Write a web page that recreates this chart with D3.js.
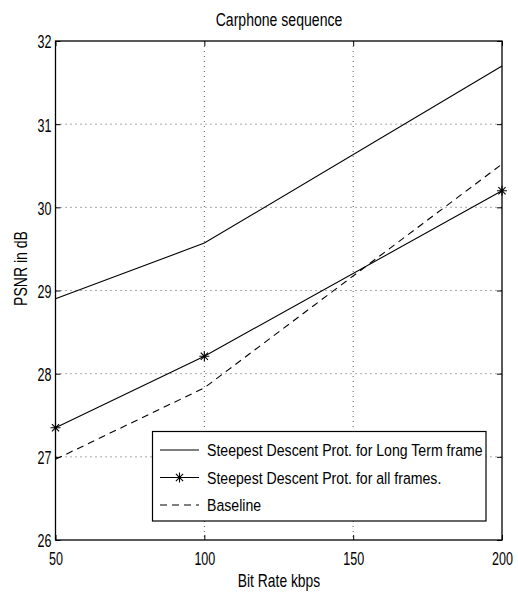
<!DOCTYPE html>
<html>
<head>
<meta charset="utf-8">
<script src="https://cdn.jsdelivr.net/npm/d3@7"></script>
<style>
  html, body { margin: 0; padding: 0; background: #fff; }
  text { font-family: "Liberation Sans", Arial, Helvetica, sans-serif; fill: #000; }
</style>
</head>
<body>
<svg id="chart" width="518" height="592"></svg>
<script>
// ---- data ----
const bitRates = [50, 100, 200];
const longTerm = [28.90, 29.57, 31.70];
const allFrames = [27.35, 28.21, 30.20];
const baseline = [26.97, 27.83, 30.52];
const xTicks = [50, 100, 150, 200];
const yTicks = [26, 27, 28, 29, 30, 31, 32];
const legendLabels = [
  "Steepest Descent Prot. for Long Term frame",
  "Steepest Descent Prot. for all frames.",
  "Baseline"
];
const titleText = "Carphone sequence";
const xLabel = "Bit Rate kbps";
const yLabel = "PSNR in dB";

// ---- layout ----
const W = 518, H = 592;
const L = 55.5, R = 502, T = 41, B = 540;
const svg = d3.select("#chart");
svg.append("rect").attr("width", W).attr("height", H).attr("fill", "#fff");

const x = d3.scaleLinear().domain([50, 200]).range([L, R]);
const y = d3.scaleLinear().domain([26, 32]).range([B, T]);

// grid
const grid = svg.append("g").attr("stroke", "#555").attr("stroke-width", 1)
  .attr("stroke-dasharray", "1,4").attr("fill", "none");
yTicks.slice(1, -1).forEach(v => {
  grid.append("line").attr("x1", L).attr("x2", R).attr("y1", y(v)).attr("y2", y(v));
});
xTicks.slice(1, -1).forEach(v => {
  grid.append("line").attr("x1", x(v)).attr("x2", x(v)).attr("y1", T).attr("y2", B);
});

// axes with inward ticks on all sides
const tickLen = 5;
const axL = svg.append("g").attr("transform", `translate(${L},0)`)
  .call(d3.axisLeft(y).tickValues(yTicks).tickSizeInner(-tickLen).tickSizeOuter(0).tickFormat(d3.format("d")));
const axR = svg.append("g").attr("transform", `translate(${R},0)`)
  .call(d3.axisRight(y).tickValues(yTicks).tickSizeInner(-tickLen).tickSizeOuter(0).tickFormat(""));
const axB = svg.append("g").attr("transform", `translate(0,${B})`)
  .call(d3.axisBottom(x).tickValues(xTicks).tickSizeInner(-tickLen).tickSizeOuter(0).tickFormat(d3.format("d")));
const axT = svg.append("g").attr("transform", `translate(0,${T})`)
  .call(d3.axisTop(x).tickValues(xTicks).tickSizeInner(-tickLen).tickSizeOuter(0).tickFormat(""));
[axL, axR, axB, axT].forEach(a => {
  a.select(".domain").remove();
  a.selectAll(".tick line").attr("stroke", "#000").attr("stroke-width", 1);
});
// tick labels: condensed look
axL.selectAll(".tick text").attr("font-size", 19).attr("font-family", "Liberation Sans, Arial, sans-serif")
  .attr("x", 0).attr("dy", "0.36em").attr("text-anchor", "end")
  .attr("transform", "translate(-4,0) scale(0.66,1)");
axB.selectAll(".tick text").attr("font-size", 19).attr("font-family", "Liberation Sans, Arial, sans-serif")
  .attr("y", 0).attr("dy", 0).attr("transform", "translate(0,565) scale(0.66,1)".replace("565", "25"));

// box
svg.append("rect").attr("x", L).attr("y", T).attr("width", R - L).attr("height", B - T)
  .attr("fill", "none").attr("stroke", "#000").attr("stroke-width", 1.3);

// star marker path
function starPath(cx, cy, r) {
  const d = r * 0.72;
  return `M${cx - r},${cy}L${cx + r},${cy}M${cx},${cy - r}L${cx},${cy + r}` +
         `M${cx - d},${cy - d}L${cx + d},${cy + d}M${cx - d},${cy + d}L${cx + d},${cy - d}`;
}

const line = d3.line().x(d => x(d[0])).y(d => y(d[1]));
const series = [
  { vals: longTerm, dash: null, star: false },
  { vals: allFrames, dash: null, star: true },
  { vals: baseline, dash: "7,5", star: false }
];
const plot = svg.append("g");
series.forEach(s => {
  const pts = bitRates.map((b, i) => [b, s.vals[i]]);
  plot.append("path").attr("d", line(pts)).attr("fill", "none").attr("stroke", "#000")
    .attr("stroke-width", 1.1).attr("stroke-dasharray", s.dash);
  if (s.star) {
    pts.forEach(p => {
      plot.append("path").attr("d", starPath(x(p[0]), y(p[1]), 5)).attr("stroke", "#000")
        .attr("stroke-width", 1.1).attr("fill", "none");
    });
  }
});

// legend
const lg = svg.append("g");
lg.append("rect").attr("x", 152.5).attr("y", 431.5).attr("width", 333.5).attr("height", 89.5)
  .attr("fill", "#fff").attr("stroke", "#000").attr("stroke-width", 1.2);
series.forEach((s, i) => {
  const cy = 450 + i * 27.5;
  lg.append("line").attr("x1", 160).attr("x2", 199).attr("y1", cy).attr("y2", cy)
    .attr("stroke", "#000").attr("stroke-width", 1.1).attr("stroke-dasharray", s.dash);
  if (s.star) {
    lg.append("path").attr("d", starPath(179.5, cy, 5)).attr("stroke", "#000").attr("stroke-width", 1.1);
  }
  lg.append("text").attr("transform", `translate(207,${cy + 6}) scale(0.83,1)`)
    .attr("font-size", 17).text(legendLabels[i]);
});

// title & labels
svg.append("text").attr("transform", `translate(279,26) scale(0.74,1)`)
  .attr("text-anchor", "middle").attr("font-size", 19).text(titleText);
svg.append("text").attr("transform", `translate(279,587) scale(0.73,1)`)
  .attr("text-anchor", "middle").attr("font-size", 19).text(xLabel);
svg.append("text").attr("transform", `translate(27,268.5) rotate(-90) scale(0.74,1)`)
  .attr("text-anchor", "middle").attr("font-size", 19).text(yLabel);
</script>
</body>
</html>
